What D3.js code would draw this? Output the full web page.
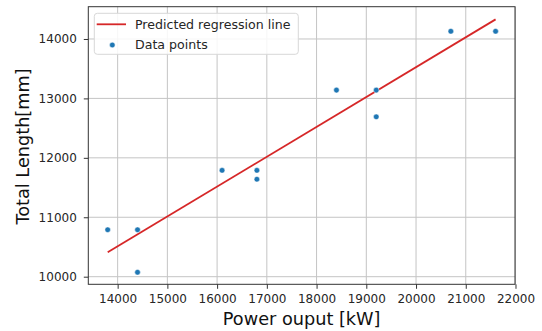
<!DOCTYPE html>
<html><head><meta charset="utf-8">
<script src="https://cdn.jsdelivr.net/npm/d3@7"></script>
<style>body{margin:0;background:#fff}svg{display:block}text{font-family:"DejaVu Sans",sans-serif}</style>
</head><body>
<svg id="c" width="542" height="331"></svg>
<script>
const powerX = [13800, 14400, 14400, 16100, 16800, 16800, 18400, 19200, 19200, 20700, 21600];
const lengthY = [10790, 10790, 10075, 11790, 11790, 11640, 13140, 13140, 12690, 14130, 14130];
const lineX = [13800, 21600];
const lineY = [10410, 14330];
const xTicks = [14000, 15000, 16000, 17000, 18000, 19000, 20000, 21000, 22000];
const yTicks = [10000, 11000, 12000, 13000, 14000];

const L = 88.3, R = 515, T = 6.7, B = 284.3;
const svg = d3.select("#c");
const x = d3.scaleLinear().domain([13410, 21990]).range([L, R]);
const y = d3.scaleLinear().domain([9872, 14543]).range([B, T]);

// grid
svg.append("g").selectAll("line").data(xTicks).join("line")
  .attr("x1", d => x(d)).attr("x2", d => x(d)).attr("y1", T).attr("y2", B)
  .attr("stroke", "#c4c4c4").attr("stroke-width", 1);
svg.append("g").selectAll("line").data(yTicks).join("line")
  .attr("y1", d => y(d)).attr("y2", d => y(d)).attr("x1", L).attr("x2", R)
  .attr("stroke", "#c4c4c4").attr("stroke-width", 1);

// axes
const xa = svg.append("g").attr("transform", `translate(0,${B})`)
  .call(d3.axisBottom(x).tickValues(xTicks).tickFormat(d3.format("d")).tickSize(4.5).tickPadding(5.5));
const ya = svg.append("g").attr("transform", `translate(${L},0)`)
  .call(d3.axisLeft(y).tickValues(yTicks).tickFormat(d3.format("d")).tickSize(4.5).tickPadding(7));
[xa, ya].forEach(a => {
  a.select(".domain").remove();
  a.selectAll(".tick line").attr("stroke", "#333");
  a.selectAll(".tick text").attr("font-size", 12).attr("fill", "#262626")
    .style("font-family", "DejaVu Sans");
});

// spines
svg.append("rect").attr("x", L).attr("y", T).attr("width", R - L).attr("height", B - T)
  .attr("fill", "none").attr("stroke", "#333").attr("stroke-width", 1);

// regression line
svg.append("path").datum(lineX.map((d, i) => [d, lineY[i]]))
  .attr("d", d3.line().x(d => x(d[0])).y(d => y(d[1])))
  .attr("stroke", "#d62728").attr("stroke-width", 1.8).attr("fill", "none");

// points
svg.append("g").selectAll("circle").data(powerX.map((d, i) => [d, lengthY[i]])).join("circle")
  .attr("cx", d => x(d[0])).attr("cy", d => y(d[1])).attr("r", 2.8)
  .attr("fill", "#1f77b4").attr("stroke", "#fff").attr("stroke-width", 0.5);

// labels
svg.append("text").attr("x", (L + R) / 2).attr("y", 325.2).attr("text-anchor", "middle")
  .attr("font-size", 17.7).attr("fill", "#111").text("Power ouput [kW]");
svg.append("text").attr("transform", `translate(28.9,${(T + B) / 2 + 1}) rotate(-90)`).attr("text-anchor", "middle")
  .attr("font-size", 17.7).attr("fill", "#111").text("Total Length[mm]");

// legend
const lg = svg.append("g");
lg.append("rect").attr("x", 94.3).attr("y", 13.3).attr("width", 204).attr("height", 41).attr("rx", 3)
  .attr("fill", "#fff").attr("fill-opacity", 0.85).attr("stroke", "#d8d8d8");
lg.append("line").attr("x1", 96.7).attr("x2", 126).attr("y1", 24.3).attr("y2", 24.3)
  .attr("stroke", "#d62728").attr("stroke-width", 1.8);
lg.append("circle").attr("cx", 112.3).attr("cy", 45).attr("r", 2.8).attr("fill", "#1f77b4").attr("stroke", "#fff").attr("stroke-width", 0.5);
lg.append("text").attr("x", 135).attr("y", 29.3).attr("font-size", 12.6).attr("fill", "#262626").text("Predicted regression line");
lg.append("text").attr("x", 135).attr("y", 49.3).attr("font-size", 12.6).attr("fill", "#262626").text("Data points");
</script>
</body></html>
